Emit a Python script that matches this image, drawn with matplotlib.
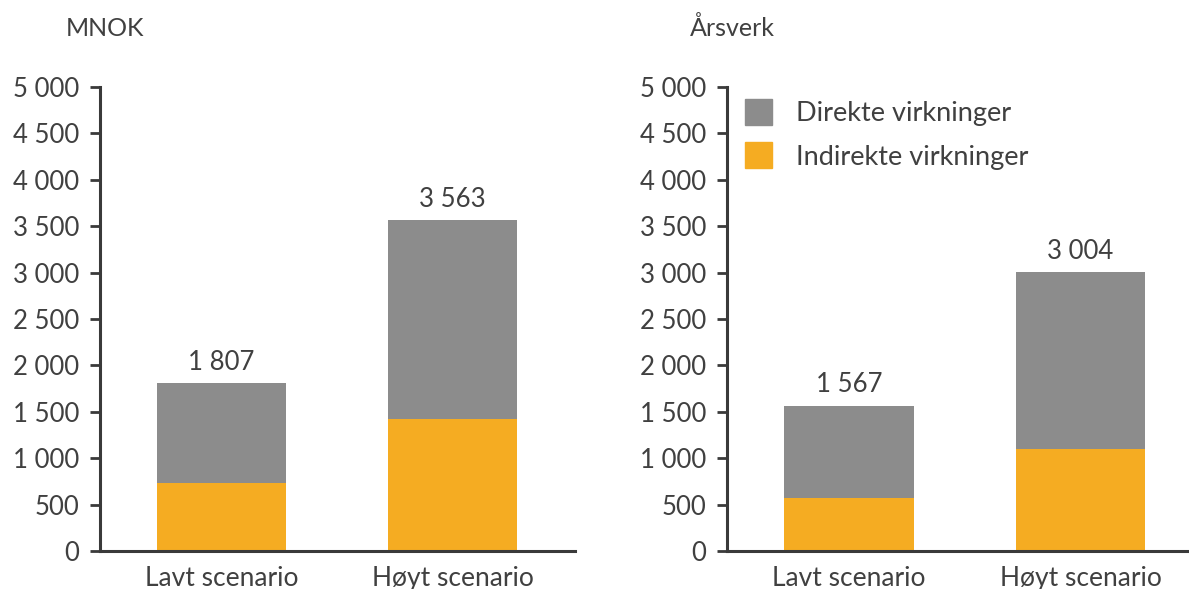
import matplotlib.pyplot as plt
from matplotlib.patches import Patch

scenarios = ["Lavt scenario", "Høyt scenario"]

# MNOK
mnok_total = [1807, 3563]
mnok_indirect = [736, 1420]
mnok_direct = [t - i for t, i in zip(mnok_total, mnok_indirect)]

# Årsverk
aarsverk_total = [1567, 3004]
aarsverk_indirect = [575, 1100]
aarsverk_direct = [t - i for t, i in zip(aarsverk_total, aarsverk_indirect)]

yticks = list(range(0, 5001, 500))

GREY = "#8c8c8c"
ORANGE = "#f5ac22"
TEXT = "#404040"
AXIS = "#3a3a3a"

plt.rcParams["font.family"] = ["Lato", "DejaVu Sans"]

W, H = 1189, 589
fig = plt.figure(figsize=(W / 100, H / 100), dpi=100)


def fmt(v):
    return f"{v:,}".replace(",", " ")


def panel(x0, x1, xlim, title, title_x, indirect, direct, total):
    ax = fig.add_axes([x0 / W, 38 / H, (x1 - x0) / W, 464 / H])
    x = range(len(scenarios))
    ax.bar(x, indirect, width=0.56, color=ORANGE, label="Indirekte virkninger")
    ax.bar(x, direct, bottom=indirect, width=0.56, color=GREY, label="Direkte virkninger")
    for xi, t in zip(x, total):
        ax.text(xi, t + 90, fmt(t), ha="center", va="bottom", fontsize=18.5, color=TEXT)
    ax.set_ylim(0, 5000)
    ax.set_xlim(*xlim)
    ax.set_yticks(yticks)
    ax.set_yticklabels([fmt(v) for v in yticks])
    ax.set_xticks(list(x))
    ax.set_xticklabels(scenarios)
    for s in ["top", "right"]:
        ax.spines[s].set_visible(False)
    for s in ["left", "bottom"]:
        ax.spines[s].set_color(AXIS)
        ax.spines[s].set_linewidth(2.2)
    ax.tick_params(axis="y", direction="out", length=7, width=2, color=AXIS,
                   labelsize=18.5, labelcolor=TEXT, pad=8)
    ax.tick_params(axis="x", length=0, labelsize=19, labelcolor=TEXT, pad=11)
    fig.text(title_x / W, 1 - 28 / H, title, ha="left", va="center", fontsize=18, color=TEXT)
    return ax


panel(100, 575, (-0.526, 1.53), "MNOK", 66, mnok_indirect, mnok_direct, mnok_total)
ax2 = panel(727, 1189, (-0.527, 1.469), "Årsverk", 690,
            aarsverk_indirect, aarsverk_direct, aarsverk_total)

handles = [Patch(color=GREY, label="Direkte virkninger"),
           Patch(color=ORANGE, label="Indirekte virkninger")]
ax2.legend(handles=handles, loc="upper left", bbox_to_anchor=(18 / 462, (551 - 99) / 464),
           frameon=False, fontsize=19.5, borderpad=0, borderaxespad=0,
           handlelength=1.0, handleheight=1.1, handletextpad=0.9,
           labelspacing=0.6, labelcolor=TEXT)

fig.savefig("out.png", dpi=100)
